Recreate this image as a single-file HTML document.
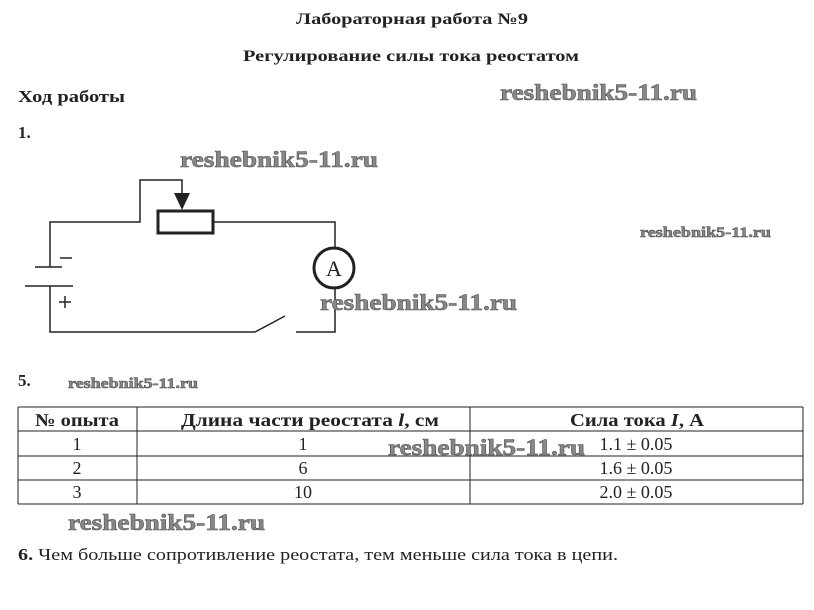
<!DOCTYPE html>
<html><head><meta charset="utf-8"><style>
html,body{margin:0;padding:0;background:#fff;}
svg{display:block;}
.t{font-family:"Liberation Serif",serif;fill:#222;}
.w{font-family:"Liberation Serif",serif;font-weight:bold;fill:#888;stroke:#555;stroke-width:0.6;}
</style></head><body>
<svg width="814" height="610" viewBox="0 0 814 610" xmlns="http://www.w3.org/2000/svg">
<text class="t" x="296" y="24" font-size="16" font-weight="bold" textLength="232" lengthAdjust="spacingAndGlyphs">Лабораторная работа №9</text>
<text class="t" x="243" y="61" font-size="16" font-weight="bold" textLength="336" lengthAdjust="spacingAndGlyphs">Регулирование силы тока реостатом</text>
<text class="t" x="18" y="102" font-size="17" font-weight="bold" textLength="107" lengthAdjust="spacingAndGlyphs">Ход работы</text>
<text class="t" x="18" y="138" font-size="17" font-weight="bold">1.</text>
<text class="w" x="500" y="100" font-size="23" textLength="197" lengthAdjust="spacingAndGlyphs">reshebnik5-11.ru</text>
<text class="w" x="180" y="167" font-size="23" textLength="198" lengthAdjust="spacingAndGlyphs">reshebnik5-11.ru</text>
<text class="w" x="640" y="237" font-size="15" textLength="131" lengthAdjust="spacingAndGlyphs">reshebnik5-11.ru</text>

<g stroke="#222" stroke-width="1.5" fill="none">
<polyline points="50,267 50,222 140,222 140,180 182,180 182,195"/>
<rect x="158" y="211" width="55" height="22" stroke-width="3"/>
<polyline points="213,222 335,222 335,248"/>
<circle cx="334" cy="268" r="20" stroke-width="3"/>
<polyline points="335,288 335,332 296,332"/>
<polyline points="50,286 50,332 255,332 285,316"/>
<line x1="35" y1="267" x2="62" y2="267"/>
<line x1="25" y1="286" x2="73" y2="286"/>
<line x1="60" y1="258" x2="72" y2="258"/>
<line x1="59" y1="302" x2="71" y2="302"/><line x1="65" y1="296" x2="65" y2="308"/>
</g>
<polygon points="174,193 190,193 182,210" fill="#222"/>
<text class="t" x="334" y="276" font-size="22" text-anchor="middle">A</text>
<text class="w" x="320" y="310" font-size="23" textLength="197" lengthAdjust="spacingAndGlyphs">reshebnik5-11.ru</text>

<text class="t" x="18" y="386" font-size="17" font-weight="bold">5.</text>
<text class="w" x="68" y="388" font-size="15" textLength="130" lengthAdjust="spacingAndGlyphs">reshebnik5-11.ru</text>

<g stroke="#222" stroke-width="1">
<line x1="18" y1="407" x2="803" y2="407"/>
<line x1="18" y1="431" x2="803" y2="431"/>
<line x1="18" y1="456" x2="803" y2="456"/>
<line x1="18" y1="480" x2="803" y2="480"/>
<line x1="18" y1="504" x2="803" y2="504"/>
<line x1="18" y1="407" x2="18" y2="504"/>
<line x1="137" y1="407" x2="137" y2="504"/>
<line x1="470" y1="407" x2="470" y2="504"/>
<line x1="803" y1="407" x2="803" y2="504"/>
</g>
<g class="t" font-size="18" text-anchor="middle">
<text x="77" y="426" font-weight="bold" textLength="84" lengthAdjust="spacingAndGlyphs">№ опыта</text>
<text x="310" y="426" font-weight="bold" textLength="258" lengthAdjust="spacingAndGlyphs">Длина части реостата <tspan font-style="italic">l</tspan>, см</text>
<text x="637" y="426" font-weight="bold" textLength="134" lengthAdjust="spacingAndGlyphs">Сила тока <tspan font-style="italic">I</tspan>, А</text>
<text x="77" y="450">1</text><text x="303" y="450">1</text><text x="636" y="450">1.1 ± 0.05</text>
<text x="77" y="474">2</text><text x="303" y="474">6</text><text x="636" y="474">1.6 ± 0.05</text>
<text x="77" y="498">3</text><text x="303" y="498">10</text><text x="636" y="498">2.0 ± 0.05</text>
</g>
<text class="w" x="388" y="455" font-size="23" textLength="197" lengthAdjust="spacingAndGlyphs">reshebnik5-11.ru</text>
<text class="w" x="68" y="530" font-size="23" textLength="197" lengthAdjust="spacingAndGlyphs">reshebnik5-11.ru</text>
<text class="t" x="18" y="560" font-size="17" textLength="600" lengthAdjust="spacingAndGlyphs"><tspan font-weight="bold">6.</tspan> Чем больше сопротивление реостата, тем меньше сила тока в цепи.</text>
</svg>
</body></html>
